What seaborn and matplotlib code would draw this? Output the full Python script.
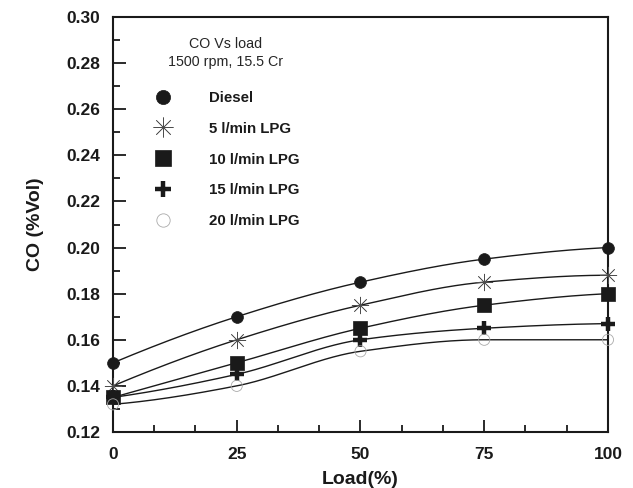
import numpy as np
import pandas as pd
import matplotlib
matplotlib.use("Agg")
import matplotlib.pyplot as plt
from matplotlib.lines import Line2D
from matplotlib.ticker import MultipleLocator
import seaborn as sns

load = [0, 25, 50, 75, 100]
diesel = [0.150, 0.170, 0.185, 0.195, 0.200]
lpg5 = [0.140, 0.160, 0.175, 0.185, 0.188]
lpg10 = [0.135, 0.150, 0.165, 0.175, 0.180]
lpg15 = [0.135, 0.145, 0.160, 0.165, 0.167]
lpg20 = [0.132, 0.140, 0.155, 0.160, 0.160]
labels = ["Diesel", "5 l/min LPG", "10 l/min LPG", "15 l/min LPG", "20 l/min LPG"]
series = [diesel, lpg5, lpg10, lpg15, lpg20]


def pchip(x, y, xs):
    x = np.asarray(x, float)
    y = np.asarray(y, float)
    h = np.diff(x)
    d = np.diff(y) / h
    n = len(x)
    m = np.zeros(n)
    for k in range(1, n - 1):
        if d[k - 1] * d[k] <= 0:
            m[k] = 0.0
        else:
            w1 = 2 * h[k] + h[k - 1]
            w2 = h[k] + 2 * h[k - 1]
            m[k] = (w1 + w2) / (w1 / d[k - 1] + w2 / d[k])
    m[0] = ((2 * h[0] + h[1]) * d[0] - h[0] * d[1]) / (h[0] + h[1])
    if np.sign(m[0]) != np.sign(d[0]):
        m[0] = 0
    m[-1] = ((2 * h[-1] + h[-2]) * d[-1] - h[-1] * d[-2]) / (h[-1] + h[-2])
    if np.sign(m[-1]) != np.sign(d[-1]):
        m[-1] = 0
    out = np.empty_like(xs, dtype=float)
    idx = np.clip(np.searchsorted(x, xs) - 1, 0, n - 2)
    for i, xv in enumerate(xs):
        k = idx[i]
        t = (xv - x[k]) / h[k]
        h00 = 2 * t**3 - 3 * t**2 + 1
        h10 = t**3 - 2 * t**2 + t
        h01 = -2 * t**3 + 3 * t**2
        h11 = t**3 - t**2
        out[i] = h00 * y[k] + h10 * h[k] * m[k] + h01 * y[k + 1] + h11 * h[k] * m[k + 1]
    return out


sns.set_theme(style="ticks")
plt.rcParams['font.family'] = ['Liberation Sans', 'DejaVu Sans']
plt.rcParams['font.weight'] = 'bold'

fig = plt.figure(figsize=(6.33, 4.88), dpi=100)
ax = fig.add_axes([0.1785, 0.1148, 0.782, 0.8502])

dark = '#1a1a1a'
styles = [
    dict(marker='o', markersize=8.5, markerfacecolor=dark, markeredgecolor=dark, markeredgewidth=0.5),
    dict(marker=(8, 2, 0), markersize=12, markerfacecolor=dark, markeredgecolor='#4d4d4d', markeredgewidth=0.5),
    dict(marker='s', markersize=9.5, markerfacecolor=dark, markeredgecolor=dark, markeredgewidth=0.5),
    dict(marker='+', markersize=10, markerfacecolor=dark, markeredgecolor=dark, markeredgewidth=3.2),
    dict(marker='o', markersize=8, markerfacecolor='none', markeredgecolor='#aaaaaa', markeredgewidth=0.6),
]
filled = [True, False, True, False, True]

xs = np.linspace(0, 100, 300)
handles = []
for vals, lab, st, isf in zip(series, labels, styles, filled):
    fit = pd.DataFrame({"x": xs, "y": pchip(load, vals, xs)})
    sns.lineplot(data=fit, x="x", y="y", ax=ax, color=dark, linewidth=1.0, zorder=2)
    pts = pd.DataFrame({"x": load, "y": vals})
    if isf:
        sns.scatterplot(data=pts, x="x", y="y", ax=ax, marker=st['marker'],
                        s=st['markersize'] ** 2, facecolor=st['markerfacecolor'],
                        edgecolor=st['markeredgecolor'], linewidth=st['markeredgewidth'],
                        zorder=3, clip_on=False)
    else:
        sns.scatterplot(data=pts, x="x", y="y", ax=ax, marker=st['marker'],
                        s=st['markersize'] ** 2, color=st['markeredgecolor'],
                        linewidth=st['markeredgewidth'], zorder=3, clip_on=False)
    h = Line2D([], [], linestyle='none', **st)
    h.set_markersize(st['markersize'] * 1.2)
    handles.append(h)

ax.set_xlim(0, 100)
ax.set_ylim(0.12, 0.30)
ax.xaxis.set_minor_locator(MultipleLocator(25 / 3))
ax.yaxis.set_minor_locator(MultipleLocator(0.01))
yt = np.round(np.arange(0.12, 0.301, 0.02), 2)
ax.set_yticks(yt)
ax.set_yticklabels([f"{v:.2f}" for v in yt])
ax.set_xticks(load)
ax.set_xticklabels([str(v) for v in load])

ax.tick_params(which='major', direction='in', length=9, width=1.3, color=dark,
               labelsize=12.5, top=False, right=False, labelcolor=dark)
ax.tick_params(axis='y', which='major', pad=9)
ax.tick_params(axis='x', which='major', pad=11)
ax.tick_params(which='minor', direction='in', length=5, width=1.3, color=dark,
               top=False, right=False)
for lbl in ax.get_xticklabels() + ax.get_yticklabels():
    lbl.set_fontweight('bold')
for sp in ax.spines.values():
    sp.set_visible(True)
    sp.set_linewidth(1.5)
    sp.set_color(dark)

ax.set_xlabel("Load(%)", fontsize=14, fontweight='bold', color=dark, labelpad=6)
ax.set_ylabel("CO (%Vol)", fontsize=14, fontweight='bold', color=dark, labelpad=16)

leg = ax.legend(handles=handles, labels=labels, loc='upper left',
                bbox_to_anchor=(0.055, 0.98), frameon=False,
                title="CO Vs load\n1500 rpm, 15.5 Cr",
                prop={'size': 10.8, 'weight': 'bold'}, labelspacing=1.12,
                handletextpad=2.3, handlelength=1.5, borderpad=0.3)
leg.get_title().set_fontsize(10.3)
leg.get_title().set_fontweight('normal')
leg.get_title().set_multialignment('center')
leg.get_title().set_linespacing(1.3)
leg._legend_box.sep = 16
for t in leg.get_texts():
    t.set_color(dark)

fig.savefig("out.png", dpi=100)
